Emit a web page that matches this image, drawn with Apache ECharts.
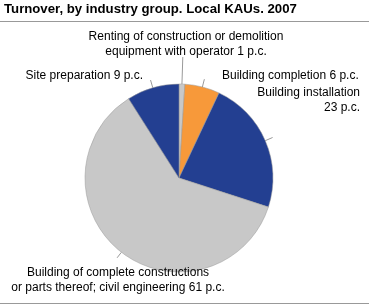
<!DOCTYPE html>
<html><head><meta charset="utf-8">
<script src="https://cdn.jsdelivr.net/npm/echarts@6/dist/echarts.min.js"></script>
<style>html,body{margin:0;padding:0;background:#fff}#c{width:369px;height:305px}</style>
</head><body><div id="c"></div>
<script>
var categories = [
  "Renting of construction or demolition\nequipment with operator",
  "Building completion",
  "Building installation",
  "Building of complete constructions\nor parts thereof; civil engineering",
  "Site preparation"
];
var values = [1, 6, 23, 61, 9];
var colors = ["#c8c8c8", "#f7993a", "#233f91", "#c8c8c8", "#233f91"];

var labelSpots = [
  {x: 186, y: 44, align: "center"},
  {x: 222, y: 76, align: "left"},
  {x: 360, y: 100, align: "right"},
  {x: 118, y: 280, align: "center"},
  {x: 143, y: 76, align: "right"}
];
var tickLengths = [27, 8, 8, 7, 8];

var chart = echarts.init(document.getElementById('c'));
chart.setOption({
  animation: false,
  title: {
    text: "Turnover, by industry group. Local KAUs. 2007",
    left: 4, top: 3, padding: 0,
    textStyle: {fontFamily: "Liberation Sans", fontSize: 13.2, fontWeight: "bold", color: "#000"}
  },
  graphic: [
    {type: "line", shape: {x1: 0, y1: 21.5, x2: 369, y2: 21.5}, style: {stroke: "#999", lineWidth: 1}},
    {type: "line", shape: {x1: 0, y1: 303.5, x2: 369, y2: 303.5}, style: {stroke: "#999", lineWidth: 1}}
  ],
  series: [{
    type: "pie",
    center: [179, 178],
    radius: 94,
    startAngle: 90,
    clockwise: true,
    data: categories.map(function (c, i) {
      return {name: c, value: values[i], itemStyle: {color: colors[i]}};
    }),
    itemStyle: {borderColor: "#999", borderWidth: 0.5},
    label: {
      formatter: function (p) {
        if (p.dataIndex === 2) return p.name + "\n" + p.value + " p.c.";
        return p.name + " " + p.value + " p.c.";
      },
      overflow: "none",
      fontFamily: "Liberation Sans", fontSize: 12, color: "#000", lineHeight: 14.5
    },
    labelLine: {show: false},
    labelLayout: function (p) {
      var s = labelSpots[p.dataIndex];
      return {x: s.x, y: s.y, align: s.align, verticalAlign: "middle"};
    }
  }, {
    type: "pie",
    silent: true,
    center: [179, 178],
    radius: 94,
    startAngle: 90,
    clockwise: true,
    avoidLabelOverlap: false,
    data: categories.map(function (c, i) {
      return {name: c, value: values[i], labelLine: {length: tickLengths[i]}};
    }),
    itemStyle: {color: "rgba(0,0,0,0)", borderWidth: 0},
    label: {formatter: " ", fontSize: 1, overflow: "none"},
    labelLine: {show: true, length2: 0, lineStyle: {color: "#999", width: 1}}
  }]
});
</script></body></html>
